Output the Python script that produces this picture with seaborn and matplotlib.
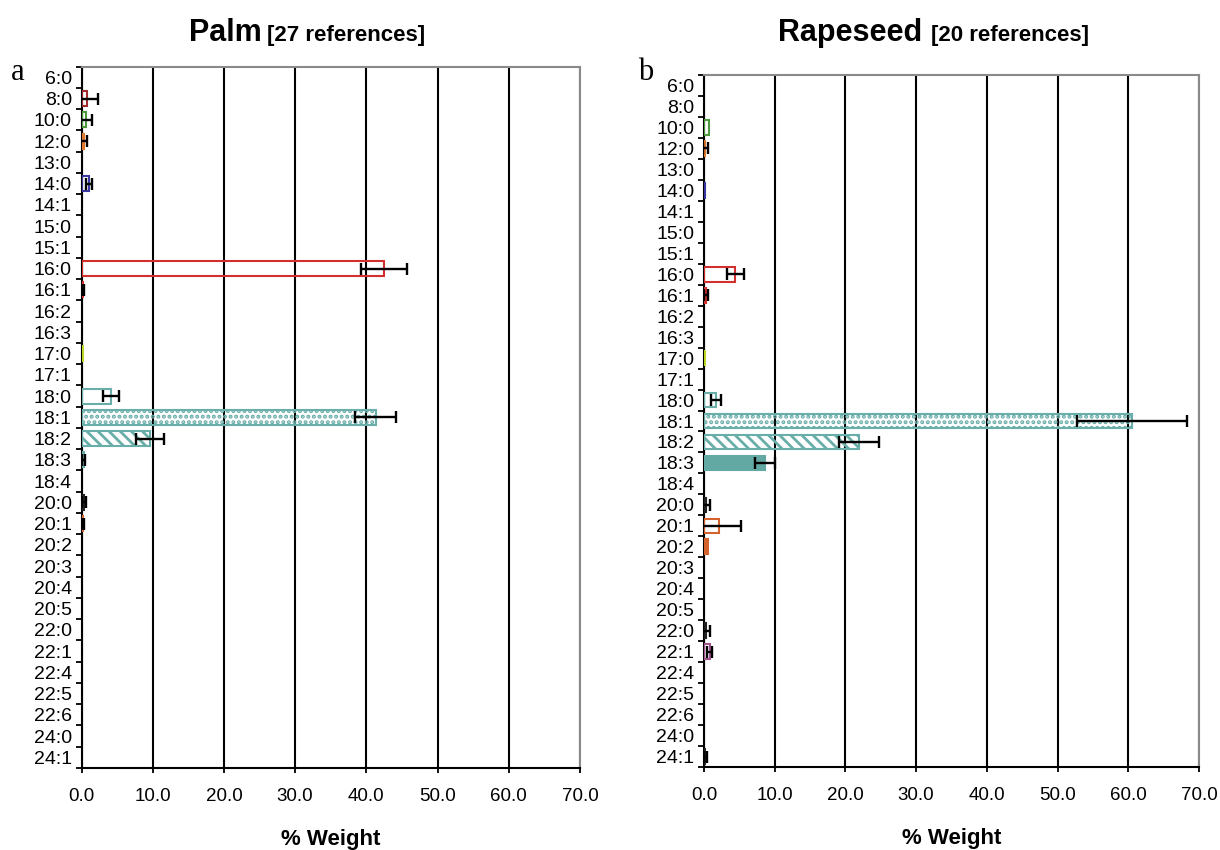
import numpy as np
import matplotlib
matplotlib.use("Agg")
import matplotlib.pyplot as plt
import seaborn as sns

acids = ["6:0", "8:0", "10:0", "12:0", "13:0", "14:0", "14:1", "15:0", "15:1",
         "16:0", "16:1", "16:2", "16:3", "17:0", "17:1", "18:0", "18:1", "18:2",
         "18:3", "18:4", "20:0", "20:1", "20:2", "20:3", "20:4", "20:5", "22:0",
         "22:1", "22:4", "22:5", "22:6", "24:0", "24:1"]

palm_mean = [0, 0.8, 0.6, 0.3, 0, 1.1, 0, 0, 0,
             42.5, 0.2, 0, 0, 0.2, 0, 4.1, 41.3, 9.6,
             0.3, 0, 0.4, 0.2, 0, 0, 0, 0, 0,
             0, 0, 0, 0, 0, 0]
palm_err = [0, 1.5, 0.9, 0.5, 0, 0.4, 0, 0, 0,
            3.2, 0.2, 0, 0, 0, 0, 1.1, 2.9, 2.0,
            0.2, 0, 0.3, 0.1, 0, 0, 0, 0, 0,
            0, 0, 0, 0, 0, 0]

rape_mean = [0, 0, 0.7, 0.2, 0, 0.1, 0, 0, 0,
             4.4, 0.3, 0, 0, 0.1, 0, 1.7, 60.5, 21.9,
             8.6, 0, 0.3, 2.1, 0.5, 0, 0, 0, 0.3,
             0.8, 0, 0, 0, 0, 0.2]
rape_err = [0, 0, 0, 0.3, 0, 0, 0, 0, 0,
            1.2, 0.3, 0, 0, 0, 0, 0.7, 7.8, 2.8,
            1.4, 0, 0.6, 3.1, 0, 0, 0, 0, 0.5,
            0.35, 0, 0, 0, 0, 0.2]

panels = [("Palm", "[27 references]", "a", palm_mean, palm_err),
          ("Rapeseed", "[20 references]", "b", rape_mean, rape_err)]

# bar look per fatty acid: (edge colour, filled?, hatch)
teal = "#6aaea9"
look = {
    "8:0": ("#a02a2e", False, ""),
    "10:0": ("#4c9a3c", False, ""),
    "12:0": ("#e0782c", True, ""),
    "14:0": ("#3838a0", False, ""),
    "16:0": ("#d2302e", False, ""),
    "16:1": ("#d2302e", True, ""),
    "17:0": ("#bcd424", True, ""),
    "18:0": (teal, False, ""),
    "18:1": (teal, False, "..."),
    "18:2": (teal, False, "\\\\\\"),
    "18:3": ("#62a8a3", True, ""),
    "20:0": ("#222222", True, ""),
    "20:1": ("#d4622c", False, ""),
    "20:2": ("#d4622c", True, ""),
    "22:0": ("#222222", True, ""),
    "22:1": ("#a0508a", False, ""),
    "24:1": ("#222222", True, ""),
}

sns.set_style("white")
plt.rcParams["font.family"] = ["Liberation Sans", "DejaVu Sans"]
plt.rcParams["hatch.linewidth"] = 2.0
plt.rcParams["text.color"] = "black"
plt.rcParams["axes.labelcolor"] = "black"
plt.rcParams["xtick.color"] = "black"
plt.rcParams["ytick.color"] = "black"

fig = plt.figure(figsize=(12.2, 8.5), dpi=100)
W, H = 1220, 850
boxes = [(81.5, 580, 66.7, 768), (704, 1199, 75, 767)]
title_x = [(262, 267), (922, 931)]
letter_x = [18, 646]

for (name, refs, letter, mean, err), (x0, x1, y0, y1), (tx, rx), lx in zip(panels, boxes, title_x, letter_x):
    ax = fig.add_axes([x0 / W, 1 - y1 / H, (x1 - x0) / W, (y1 - y0) / H])
    sns.barplot(x=mean, y=acids, orient="h", order=acids, color="white",
                width=0.7, errorbar=None, ax=ax, zorder=3)
    for i, p in enumerate(ax.patches):
        ec, filled, hatch = look.get(acids[i], ("#888888", False, ""))
        p.set_edgecolor(ec)
        p.set_facecolor(ec if filled else "none")
        p.set_hatch(hatch)
        p.set_linewidth(1.5 if mean[i] > 0 else 0)
    idx = [i for i, e in enumerate(err) if e > 0]
    ax.errorbar([mean[i] for i in idx], idx, xerr=[err[i] for i in idx],
                fmt="none", ecolor="black", elinewidth=1.7, capsize=4,
                capthick=1.7, zorder=4)

    ax.set_xlim(0, 70)
    ax.set_ylim(len(acids) - 0.5, -0.5)
    ax.set_xticks(range(0, 71, 10))
    ax.set_xticklabels([f"{v:.1f}" for v in range(0, 71, 10)], fontsize=13.5)
    ax.set_yticks(range(len(acids)))
    ax.set_yticklabels(acids, fontsize=14)
    ax.set_yticks(np.arange(-0.5, len(acids), 1), minor=True)
    ax.tick_params(axis="y", which="major", length=0, pad=7)
    ax.tick_params(axis="y", which="minor", length=4, width=1.3,
                   direction="out", color="black", left=True)
    ax.tick_params(axis="x", which="major", length=7, width=1.3,
                   direction="inout", color="black", pad=11, bottom=True)
    ax.set_ylabel("")
    ax.set_xlabel("% Weight", fontsize=16, fontweight="bold", labelpad=17)

    ax.grid(axis="x", color="black", lw=1.5)
    ax.grid(axis="y", visible=False)
    ax.set_axisbelow(True)
    for s in ["top", "right"]:
        ax.spines[s].set_color("#8a8a8a")
        ax.spines[s].set_linewidth(1.5)
    for s in ["left", "bottom"]:
        ax.spines[s].set_color("black")
        ax.spines[s].set_linewidth(1.5)

    fig.text(tx / W, 1 - 41 / H, name, ha="right", va="baseline",
             fontsize=22, fontweight="bold")
    fig.text(rx / W, 1 - 41 / H, refs, ha="left", va="baseline",
             fontsize=16, fontweight="bold")
    fig.text(lx / W, 1 - 72 / H, letter, ha="center", va="center",
             fontsize=22, family=["Liberation Serif", "DejaVu Serif"])

fig.savefig("out.png", dpi=100, facecolor="white")
